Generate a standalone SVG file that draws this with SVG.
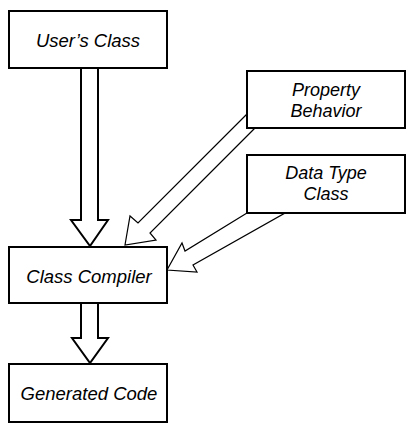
<svg xmlns="http://www.w3.org/2000/svg" width="416" height="440" viewBox="0 0 416 440">
<style>
.box{fill:#fff;stroke:#000;stroke-width:2}
.t{font-family:"Liberation Sans",Arial,sans-serif;font-style:italic;font-size:18.5px;text-anchor:middle;fill:#000}
.t2{font-size:18px}
.thick{fill:#fff;stroke:#000;stroke-width:2;stroke-linejoin:miter}
.thin{fill:#fff;stroke:#000;stroke-width:1.2;stroke-linejoin:miter}
</style>
<rect width="416" height="440" fill="#fff"/>
<g id="connectors">
<polygon class="thick" points="81,68 98,68 98,220 108,220 90,246 71,220 81,220"/>
<polygon class="thick" points="81,303 98,303 98,338 108,338 90,363 72,338 81,338"/>
<polygon class="thin" points="247,114 138,223 130,216 125,245 156,240 150,233 254,129"/>
<polygon class="thin" points="247,213 185,251 182,243 167,270 197,272 193,265 285,213"/>
</g>
<g id="users-class">
<rect class="box" x="9" y="11" width="158" height="57"/>
<text class="t" x="88" y="47">User’s Class</text>
</g>
<g id="property-behavior">
<rect class="box" x="247" y="71" width="158" height="57"/>
<text class="t t2" x="326" y="96">Property</text>
<text class="t t2" x="326" y="117">Behavior</text>
</g>
<g id="data-type-class">
<rect class="box" x="247" y="155" width="158" height="58"/>
<text class="t t2" x="326" y="179">Data Type</text>
<text class="t t2" x="326" y="200">Class</text>
</g>
<g id="class-compiler">
<rect class="box" x="9" y="247" width="158" height="56"/>
<text class="t" x="89" y="283">Class Compiler</text>
</g>
<g id="generated-code">
<rect class="box" x="9" y="364" width="158" height="58"/>
<text class="t" x="89" y="400">Generated Code</text>
</g>
</svg>
